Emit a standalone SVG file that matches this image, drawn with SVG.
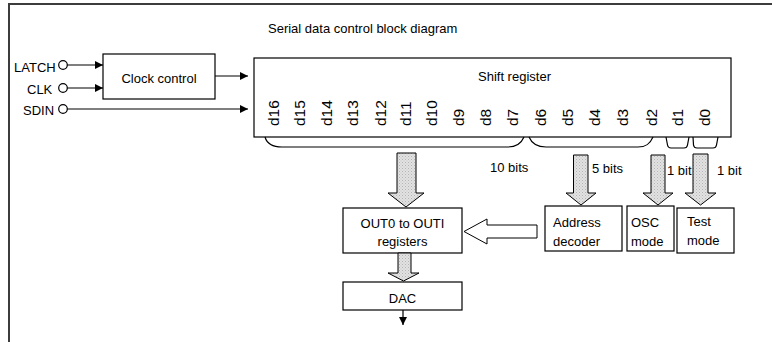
<svg xmlns="http://www.w3.org/2000/svg" width="772" height="342" viewBox="0 0 772 342">
<defs>
<style>
text{font-family:"Liberation Sans",Arial,sans-serif;font-size:13px;fill:#000}
.bit{font-size:15.5px}
.box{fill:#fff;stroke:#000;stroke-width:1.2}
.ln{fill:none;stroke:#000;stroke-width:1.2}
.blk{fill:url(#dots);stroke:#000;stroke-width:1}
.hol{fill:#fff;stroke:#000;stroke-width:1}
.pin{fill:#fff;stroke:#000;stroke-width:1.2}
</style>
<pattern id="dots" width="3" height="3" patternUnits="userSpaceOnUse">
<rect width="3" height="3" fill="#e2e2e2"/>
<rect width="1" height="1" fill="#b4b4b4"/>
<rect x="1.5" y="1.5" width="1" height="1" fill="#c4c4c4"/>
</pattern>
<marker id="ah" markerWidth="8" markerHeight="8" refX="8" refY="4" orient="auto" markerUnits="userSpaceOnUse">
<path d="M0,0 L8,4 L0,8 Z" fill="#000"/>
</marker>
</defs>

<g id="frame">
<path d="M9,345 L9,4 L775,4" fill="none" stroke="#3c3c3c" stroke-width="2"/>
</g>

<g id="title"><text x="268" y="33">Serial data control block diagram</text></g>

<g id="pins">
<g id="latch"><text x="14" y="72">LATCH</text><circle class="pin" cx="63" cy="65" r="4.3"/></g>
<g id="clk"><text x="27" y="94">CLK</text><circle class="pin" cx="63" cy="88" r="4.3"/></g>
<g id="sdin"><text x="23" y="115">SDIN</text><circle class="pin" cx="63" cy="109" r="4.3"/></g>
</g>

<g id="clock-control">
<rect class="box" x="103" y="54" width="112" height="45"/>
<text x="159" y="83" text-anchor="middle">Clock control</text>
</g>

<g id="shift-register">
<rect class="box" x="254" y="58" width="477" height="79"/>
<text x="478" y="81">Shift register</text>
<g class="bits">
<text class="bit" transform="translate(279,126) rotate(-90)">d16</text>
<text class="bit" transform="translate(305,126) rotate(-90)">d15</text>
<text class="bit" transform="translate(332,126) rotate(-90)">d14</text>
<text class="bit" transform="translate(358,126) rotate(-90)">d13</text>
<text class="bit" transform="translate(386,126) rotate(-90)">d12</text>
<text class="bit" transform="translate(411,126) rotate(-90)">d11</text>
<text class="bit" transform="translate(437,126) rotate(-90)">d10</text>
<text class="bit" transform="translate(464,126) rotate(-90)">d9</text>
<text class="bit" transform="translate(491,126) rotate(-90)">d8</text>
<text class="bit" transform="translate(518,126) rotate(-90)">d7</text>
<text class="bit" transform="translate(546,126) rotate(-90)">d6</text>
<text class="bit" transform="translate(573,126) rotate(-90)">d5</text>
<text class="bit" transform="translate(600,126) rotate(-90)">d4</text>
<text class="bit" transform="translate(628,126) rotate(-90)">d3</text>
<text class="bit" transform="translate(657,126) rotate(-90)">d2</text>
<text class="bit" transform="translate(683,126) rotate(-90)">d1</text>
<text class="bit" transform="translate(710,126) rotate(-90)">d0</text>
</g>
</g>

<g id="out-registers">
<rect class="box" x="343" y="208" width="119" height="45"/>
<text x="402.5" y="228" text-anchor="middle">OUT0 to OUTI</text>
<text x="402.5" y="246" text-anchor="middle">registers</text>
</g>

<g id="dac">
<rect class="box" x="343" y="282" width="119" height="28"/>
<text x="402.5" y="303" text-anchor="middle">DAC</text>
</g>

<g id="address-decoder">
<rect class="box" x="545" y="206" width="77" height="45"/>
<text x="553" y="227">Address</text>
<text x="553" y="246">decoder</text>
</g>

<g id="osc-mode">
<rect class="box" x="627" y="206" width="47" height="45"/>
<text x="631" y="227">OSC</text>
<text x="631" y="246">mode</text>
</g>

<g id="test-mode">
<rect class="box" x="677" y="208" width="57" height="45"/>
<text x="687" y="226">Test</text>
<text x="687" y="245">mode</text>
</g>

<g id="connectors">
<line class="ln" x1="67.3" y1="65" x2="103" y2="65" marker-end="url(#ah)"/>
<line class="ln" x1="67.3" y1="88" x2="103" y2="88" marker-end="url(#ah)"/>
<line class="ln" x1="67.3" y1="109" x2="248" y2="109" marker-end="url(#ah)"/>
<line class="ln" x1="215" y1="76" x2="248" y2="76" marker-end="url(#ah)"/>
<line class="ln" x1="403" y1="310" x2="403" y2="325" marker-end="url(#ah)"/>

<path class="ln" d="M265,137 C267,144 272,147 282,147 L508,147 C516,147 521,144 524,137"/>
<path class="ln" d="M529,137 C532,144 537,147 546,147 L638,147 C646,147 650,144 653,137"/>
<path class="ln" d="M666,137 L667.5,145 Q668,148 671,148 L684,148 Q687,148 687.5,145 L689,137"/>
<path class="ln" d="M693,137 L693.5,145 Q694,148 697,148 L713,148 Q716,148 716.5,145 L718,137"/>

<path class="blk" d="M397,153 L416,153 L416,193 L424,193 L406,207 L388,193 L397,193 Z"/>
<path class="blk" d="M398,253 L411,253 L411,273 L419,273 L403.5,281 L388,273 L398,273 Z"/>
<path class="blk" d="M573.5,155 L588,155 L588,193 L596,193 L581,205 L566,193 L573.5,193 Z"/>
<path class="blk" d="M651,155 L665,155 L665,193 L673,193 L658,205 L643,193 L651,193 Z"/>
<path class="blk" d="M693,154 L708,154 L708,193 L716,193 L700.5,205 L685,193 L693,193 Z"/>

<path class="hol" d="M537,225 L537,238 L487,238 L487,244 L464,231.5 L487,219 L487,225 Z"/>

<text x="490" y="172">10 bits</text>
<text x="592" y="173">5 bits</text>
<text x="667" y="175">1 bit</text>
<text x="717" y="175">1 bit</text>
</g>
</svg>
